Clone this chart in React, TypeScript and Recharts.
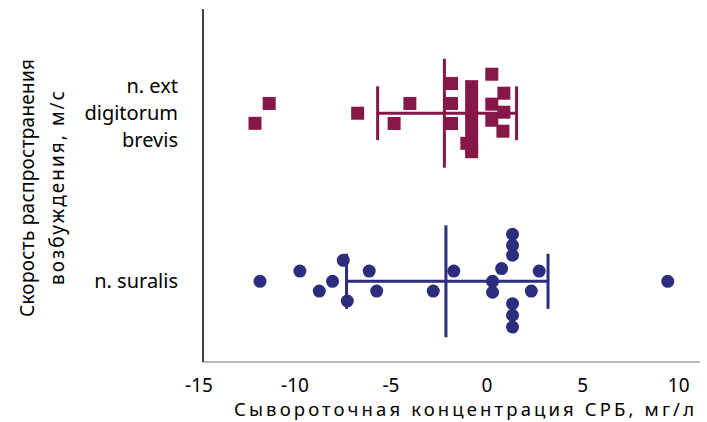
import { ScatterChart, Scatter, XAxis, YAxis, ReferenceLine, Label } from "recharts"

// y = 2 -> n. ext digitorum brevis, y = 1 -> n. suralis
const edbValues = [-12.29, -11.55, -6.94, -5.04, -4.22, -2.05, -2.05, -2.05, -1.0, -1.0, -1.0, -1.0, -1.0, -1.0, -1.0, -1.25, 0.05, 0.68, 0.05, 0.68, 0.05, 0.63]
const edbJitter = [-0.06, 0.058, 0, -0.061, 0.058, 0.177, 0.058, -0.061, 0.158, 0.089, 0.018, -0.054, -0.125, -0.196, -0.229, -0.179, 0.232, 0.119, 0.054, 0.006, -0.042, -0.107]
const suralValues = [-12.03, -9.95, -8.94, -8.25, -7.69, -7.48, -6.34, -5.95, -3.0, -1.93, 0.09, 0.09, 0.56, 1.13, 1.13, 1.13, 1.13, 1.13, 1.13, 2.11, 2.52, 9.22]
const suralJitter = [0, 0.061, -0.058, 0, 0.125, -0.117, 0.061, -0.058, -0.058, 0.061, 0, -0.065, 0.076, 0.28, 0.214, 0.155, -0.133, -0.202, -0.272, -0.058, 0.061, 0]

// mean, low whisker, high whisker
const edbSummary = [-2.42, -5.9, 1.34]
const suralSummary = [-2.34, -7.52, 2.98]

const xTicks = [-15, -10, -5, 0, 5, 10]
const groupLabels: Record<number, string[]> = {
  2: ["n. ext", "digitorum", "brevis"],
  1: ["n. suralis"],
}

const MAROON = "#851847"
const NAVY = "#2c2d7c"
const FONT = "'Noto Sans', sans-serif"

const edbData = edbValues.map((v, i) => ({ x: v, y: 2 + edbJitter[i] }))
const suralData = suralValues.map((v, i) => ({ x: v, y: 1 + suralJitter[i] }))

const Square = (p: any) => <rect x={p.cx - 6.5} y={p.cy - 6.5} width={13} height={13} fill={MAROON} />
const Dot = (p: any) => <circle cx={p.cx} cy={p.cy} r={6.5} fill={NAVY} />

const XTick = ({ x, y, payload }: any) => (
  <text x={x - 4} y={y + 22} textAnchor="middle" fontSize={19} fill="#000" fontFamily={FONT}>
    {payload.value}
  </text>
)

const YTick = ({ y, payload }: any) => {
  const lines = groupLabels[payload.value] || []
  const start = y + 7 - ((lines.length - 1) * 27) / 2
  return (
    <text x={178} y={start} textAnchor="end" fontSize={20} fill="#000" fontFamily={FONT}>
      {lines.map((l, i) => (
        <tspan key={i} x={178} y={start + i * 27}>{l}</tspan>
      ))}
    </text>
  )
}

const YTitle = () => (
  <g fontFamily={FONT} fontSize={19} fill="#000">
    <text transform="translate(34,188) rotate(-90)" textAnchor="middle" textLength={258} lengthAdjust="spacing">
      Скорость распространения
    </text>
    <text transform="translate(64,188) rotate(-90)" textAnchor="middle" textLength={194} lengthAdjust="spacing">
      возбуждения, м/с
    </text>
  </g>
)

const XTitle = () => (
  <text x={464} y={416} textAnchor="middle" fontSize={18.5} fill="#000" fontFamily={FONT} textLength={460} lengthAdjust="spacing">
    Сывороточная концентрация СРБ, мг/л
  </text>
)

function summaryLines(s: number[], y: number, color: string, meanHalf: number, capHalf: number) {
  const [mean, lo, hi] = s
  return [
    <ReferenceLine key="h" segment={[{ x: lo, y }, { x: hi, y }]} stroke={color} strokeWidth={3} ifOverflow="visible" />,
    <ReferenceLine key="m" segment={[{ x: mean, y: y - meanHalf }, { x: mean, y: y + meanHalf }]} stroke={color} strokeWidth={3} ifOverflow="visible" />,
    <ReferenceLine key="l" segment={[{ x: lo, y: y - capHalf }, { x: lo, y: y + capHalf }]} stroke={color} strokeWidth={3} ifOverflow="visible" />,
    <ReferenceLine key="r" segment={[{ x: hi, y: y - capHalf }, { x: hi, y: y + capHalf }]} stroke={color} strokeWidth={3} ifOverflow="visible" />,
  ]
}

export default function App() {
  return (
    <div style={{ width: 707, height: 422, background: "#fff" }}>
      <style>{"body{margin:0}"}</style>
      <ScatterChart width={707} height={422} margin={{ top: 9, right: 7, bottom: 0, left: 0 }}>
        <XAxis
          dataKey="x"
          type="number"
          domain={[-15, 10.9]}
          ticks={xTicks}
          tickLine={false}
          axisLine={{ stroke: "#a3a3a3", strokeWidth: 1.5 }}
          tick={<XTick />}
          height={60}
        >
          <Label content={<XTitle />} />
        </XAxis>
        <YAxis
          dataKey="y"
          type="number"
          domain={[0.52, 2.62]}
          ticks={[1, 2]}
          tickLine={false}
          axisLine={{ stroke: "#000", strokeWidth: 1.5 }}
          tick={<YTick />}
          width={203}
        >
          <Label content={<YTitle />} />
        </YAxis>
        <Scatter data={edbData} shape={<Square />} isAnimationActive={false} />
        <Scatter data={suralData} shape={<Dot />} isAnimationActive={false} />
        {summaryLines(edbSummary, 2, MAROON, 0.324, 0.16)}
        {summaryLines(suralSummary, 1, NAVY, 0.333, 0.164)}
      </ScatterChart>
    </div>
  )
}
